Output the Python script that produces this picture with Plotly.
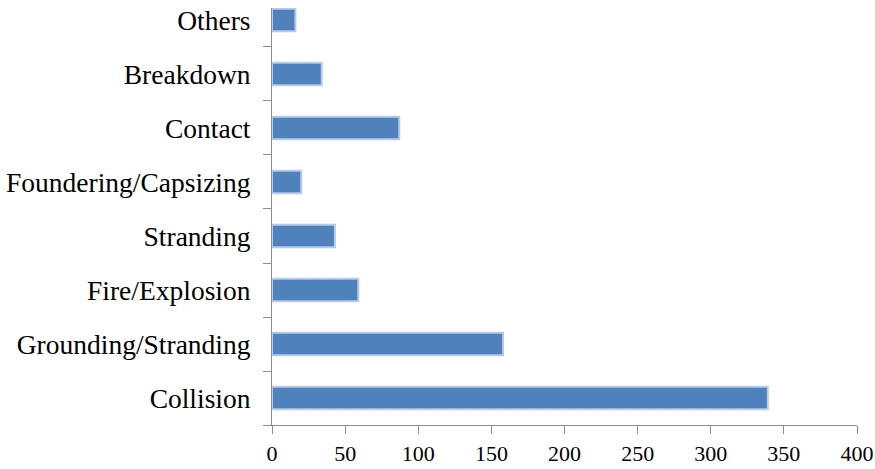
import plotly.graph_objects as go

categories = ["Collision", "Grounding/Stranding", "Fire/Explosion", "Stranding",
              "Foundering/Capsizing", "Contact", "Breakdown", "Others"]
values = [339, 158, 59, 43, 20, 87, 34, 16]
x_ticks = [0, 50, 100, 150, 200, 250, 300, 350, 400]

fig = go.Figure(go.Bar(
    y=categories, x=values, orientation="h",
    width=0.42,
    marker=dict(color="#4f81bd", line=dict(color="#b6cae9", width=2)),
))

font_family = "Liberation Serif, Times New Roman, serif"
fig.update_layout(
    width=875, height=469,
    margin=dict(l=272, r=18, t=8, b=44),
    paper_bgcolor="white", plot_bgcolor="white",
    showlegend=False,
    font=dict(family=font_family, color="black"),
)
fig.update_xaxes(
    range=[0, 400], tickvals=x_ticks, showgrid=False, zeroline=False,
    showline=True, linecolor="#8c8c8c", linewidth=1,
    ticks="outside", ticklen=8, tickcolor="#8c8c8c",
    tickfont=dict(size=22, family=font_family, color="black"),
    ticklabelstandoff=1, automargin=False,
)
fig.update_yaxes(
    type="category", categoryorder="array", categoryarray=categories,
    range=[-0.5, 7.222], showgrid=False, zeroline=False,
    showline=True, linecolor="#8c8c8c", linewidth=1,
    ticks="outside", ticklen=8, tickcolor="#8c8c8c", tickson="boundaries",
    tickfont=dict(size=27.5, family=font_family, color="black"),
    ticklabelstandoff=15, automargin=False,
)
fig.write_html("out.html")
